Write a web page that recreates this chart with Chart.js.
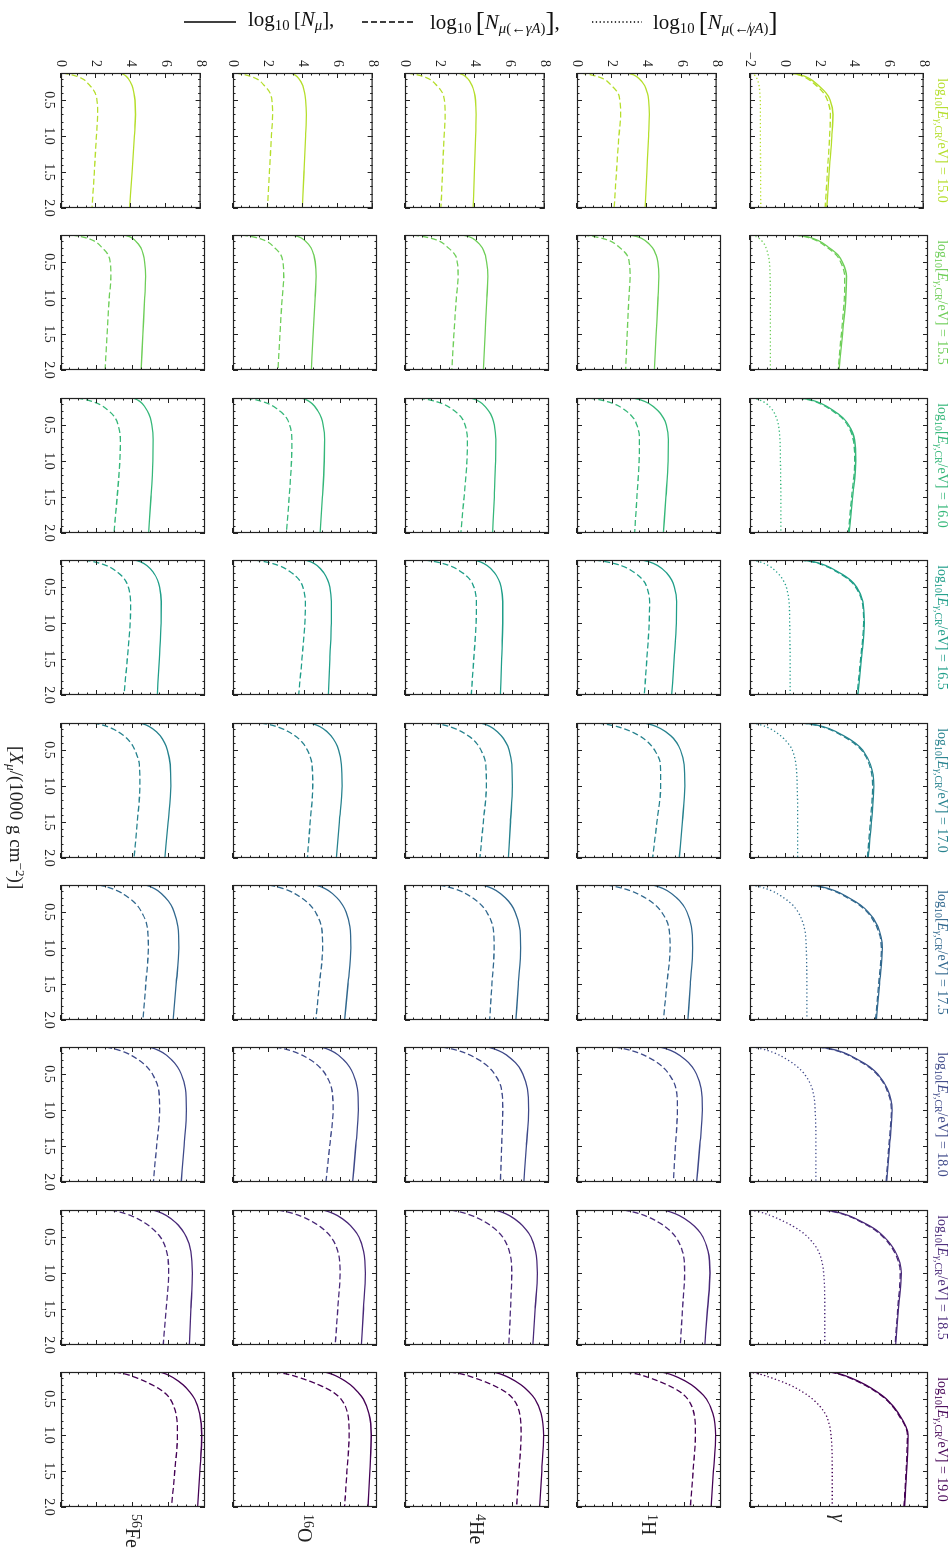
<!DOCTYPE html>
<html>
<head>
<meta charset="utf-8">
<script src="https://cdn.jsdelivr.net/npm/chart.js@4.4.1/dist/chart.umd.min.js"></script>
<style>
  html, body { margin: 0; padding: 0; background: #fff; }
  body { width: 952px; height: 1553px; position: relative; overflow: hidden;
         font-family: "Liberation Serif", "DejaVu Serif", serif; color: #111; }
  #fig { position: absolute; left: 0; top: 0; width: 1553px; height: 952px;
         transform-origin: 0 0; transform: translate(952px, 0) rotate(90deg); }
  #fig canvas { position: absolute; }
  .title { position: absolute; white-space: nowrap; font-size: 14px; line-height: 1;
           transform: translate(-50%, -50%); }
  .rowlab { position: absolute; white-space: nowrap; font-size: 20px; line-height: 1;
            transform: translateY(-50%); color: #222; }
  .xlab { position: absolute; white-space: nowrap; font-size: 19px; line-height: 1;
          transform: translateY(-50%); color: #222; }
  sub { font-size: 0.7em; vertical-align: -0.28em; line-height: 0; }
  sup { font-size: 0.7em; vertical-align: 0.45em; line-height: 0; }
  #legend .key { position: absolute; top: 18px; }
  #legend .lt { position: absolute; top: 9px; font-size: 21px; line-height: 1; white-space: nowrap; color: #111; }
  #legend .big { font-size: 1.3em; vertical-align: -0.08em; }
</style>
</head>
<body>
<div id="fig"></div>
<div id="legend">
  <svg class="key" style="left:184px" width="52" height="8"><line x1="0" y1="4" x2="52" y2="4" stroke="#000" stroke-width="1.5"/></svg>
  <div class="lt" style="left:248px">log<sub>10</sub>&#8201;[<i>N</i><sub><i>μ</i></sub>],</div>
  <svg class="key" style="left:362px" width="52" height="8"><line x1="0" y1="4" x2="52" y2="4" stroke="#000" stroke-width="1.5" stroke-dasharray="6,3"/></svg>
  <div class="lt" style="left:430px">log<sub>10</sub>&#8201;<span class="big">[</span><i>N</i><sub><i>μ</i>(←<i>γA</i>)</sub><span class="big">]</span>,</div>
  <svg class="key" style="left:592px" width="50" height="8"><line x1="0" y1="4" x2="50" y2="4" stroke="#000" stroke-width="1.5" stroke-dasharray="1.3,2.5"/></svg>
  <div class="lt" style="left:653px">log<sub>10</sub>&#8201;<span class="big">[</span><i>N</i><sub><i>μ</i>(↚<i>γA</i>)</sub><span class="big">]</span></div>
</div>
<script>
// Slant depth grid, in units of 1000 g/cm^2
const X_MU = [0.123, 0.15, 0.2, 0.3, 0.4, 0.5, 0.7, 1.0, 1.5, 2.0];
const X_MIN = 0.123;
const X_MAX = 2.0;
const X_TICKS = [0.5, 1.0, 1.5, 2.0];
const Y_TICKS = [0, 2, 4, 6, 8];
const Y_TICKS_GAMMA = [-2, 0, 2, 4, 6, 8];
const X_MINOR = 0.1;
const Y_MINOR = 0.5;

// log10 of primary energy, one column each
const ENERGIES = ['15.0', '15.5', '16.0', '16.5', '17.0', '17.5', '18.0', '18.5', '19.0'];
const LINE_COLORS = ['#b5de2b', '#6ece58', '#35b779', '#1f9e89', '#26828e',
                     '#31688e', '#3e4989', '#482878', '#440154'];

// Primaries, one row each
const PRIMARY_LABELS = ['<i>γ</i>', '<sup>1</sup>H', '<sup>4</sup>He', '<sup>16</sup>O', '<sup>56</sup>Fe'];

// log10 N_mu (all muons), per energy
const GAMMA_TOTAL = [
  [0.30, 0.92, 1.42, 1.96, 2.38, 2.61, 2.78, 2.72, 2.56, 2.42],
  [0.60, 1.26, 1.83, 2.45, 2.94, 3.19, 3.42, 3.38, 3.20, 3.00],
  [0.80, 1.43, 2.00, 2.70, 3.23, 3.55, 3.87, 3.94, 3.77, 3.57],
  [0.90, 1.61, 2.25, 3.03, 3.63, 3.99, 4.34, 4.43, 4.26, 4.06],
  [1.00, 1.71, 2.43, 3.26, 3.90, 4.33, 4.77, 4.96, 4.82, 4.64],
  [1.40, 2.05, 2.74, 3.55, 4.20, 4.65, 5.18, 5.44, 5.28, 5.10],
  [1.90, 2.56, 3.25, 4.07, 4.73, 5.18, 5.71, 5.99, 5.84, 5.68],
  [2.20, 2.85, 3.53, 4.39, 5.08, 5.55, 6.16, 6.50, 6.34, 6.18],
  [2.60, 3.05, 3.62, 4.48, 5.14, 5.67, 6.35, 6.88, 6.80, 6.68]
];
// log10 N_mu from photonuclear (gamma A) interactions
const GAMMA_FROM_GA = [
  [0.20, 0.81, 1.29, 1.83, 2.24, 2.46, 2.63, 2.59, 2.46, 2.33],
  [0.50, 1.15, 1.73, 2.35, 2.84, 3.09, 3.32, 3.30, 3.13, 2.95],
  [0.70, 1.34, 1.92, 2.62, 3.16, 3.48, 3.80, 3.88, 3.71, 3.52],
  [0.80, 1.52, 2.17, 2.96, 3.57, 3.93, 4.29, 4.38, 4.21, 4.02],
  [0.90, 1.62, 2.34, 3.18, 3.82, 4.26, 4.70, 4.89, 4.76, 4.60],
  [1.30, 1.96, 2.65, 3.47, 4.13, 4.58, 5.11, 5.38, 5.23, 5.05],
  [1.80, 2.46, 3.17, 4.00, 4.66, 5.12, 5.66, 5.94, 5.80, 5.65],
  [2.10, 2.75, 3.45, 4.32, 5.01, 5.49, 6.10, 6.44, 6.30, 6.15],
  [2.50, 2.96, 3.55, 4.41, 5.08, 5.62, 6.30, 6.84, 6.77, 6.65]
];
// log10 N_mu not from gamma A interactions (photon primaries only)
const GAMMA_NOT_GA = [
  [-1.95, -1.75, -1.60, -1.48, -1.43, -1.41, -1.40, -1.40, -1.39, -1.38],
  [-1.90, -1.62, -1.35, -1.10, -0.98, -0.91, -0.87, -0.85, -0.85, -0.85],
  [-1.85, -1.47, -1.09, -0.71, -0.51, -0.40, -0.32, -0.29, -0.27, -0.27],
  [-1.85, -1.43, -0.97, -0.46, -0.15, 0.04, 0.19, 0.23, 0.25, 0.25],
  [-1.85, -1.39, -0.89, -0.28, 0.12, 0.38, 0.58, 0.65, 0.68, 0.68],
  [-1.90, -1.41, -0.82, -0.11, 0.39, 0.70, 1.04, 1.16, 1.19, 1.19],
  [-1.85, -1.32, -0.68, 0.10, 0.67, 1.06, 1.49, 1.66, 1.70, 1.70],
  [-1.97, -1.45, -0.85, 0.05, 0.75, 1.25, 1.85, 2.14, 2.20, 2.20],
  [-2.05, -1.50, -0.85, 0.20, 0.95, 1.52, 2.22, 2.55, 2.62, 2.62]
];

const H_TOTAL = [
  [2.90, 3.25, 3.55, 3.88, 4.03, 4.10, 4.15, 4.10, 4.00, 3.90],
  [2.95, 3.40, 3.78, 4.20, 4.39, 4.49, 4.55, 4.50, 4.40, 4.30],
  [3.10, 3.54, 4.00, 4.50, 4.80, 4.96, 5.08, 5.06, 4.94, 4.80],
  [3.60, 4.03, 4.48, 4.97, 5.26, 5.41, 5.53, 5.52, 5.40, 5.26],
  [3.74, 4.17, 4.64, 5.21, 5.55, 5.75, 5.95, 5.99, 5.85, 5.68],
  [4.20, 4.56, 5.00, 5.53, 5.89, 6.11, 6.35, 6.42, 6.30, 6.16],
  [4.60, 4.98, 5.45, 6.02, 6.40, 6.64, 6.90, 6.97, 6.82, 6.65],
  [4.80, 5.19, 5.68, 6.30, 6.72, 7.00, 7.29, 7.39, 7.25, 7.10],
  [4.70, 5.12, 5.63, 6.35, 6.83, 7.19, 7.55, 7.70, 7.58, 7.45]
];
const H_FROM_GA = [
  [0.20, 0.82, 1.47, 1.99, 2.34, 2.45, 2.50, 2.40, 2.26, 2.13],
  [0.35, 1.05, 1.78, 2.38, 2.77, 2.90, 2.95, 2.88, 2.79, 2.70],
  [0.68, 1.30, 2.01, 2.71, 3.13, 3.33, 3.47, 3.45, 3.33, 3.20],
  [1.00, 1.67, 2.44, 3.20, 3.66, 3.88, 4.03, 4.01, 3.88, 3.74],
  [1.16, 1.83, 2.58, 3.46, 3.99, 4.31, 4.63, 4.65, 4.44, 4.20],
  [1.65, 2.22, 2.93, 3.78, 4.35, 4.70, 5.09, 5.17, 4.99, 4.80],
  [2.10, 2.66, 3.36, 4.20, 4.76, 5.11, 5.50, 5.58, 5.47, 5.35],
  [2.60, 3.11, 3.76, 4.57, 5.12, 5.49, 5.86, 5.98, 5.86, 5.74],
  [2.70, 3.32, 3.98, 4.99, 5.73, 6.15, 6.50, 6.58, 6.45, 6.30]
];

const HE_TOTAL = [
  [3.05, 3.34, 3.59, 3.85, 3.98, 4.04, 4.08, 4.05, 3.98, 3.90],
  [3.20, 3.59, 3.93, 4.29, 4.46, 4.54, 4.60, 4.55, 4.45, 4.35],
  [3.65, 3.96, 4.28, 4.64, 4.85, 4.96, 5.05, 5.04, 4.96, 4.87],
  [3.84, 4.19, 4.56, 4.97, 5.21, 5.34, 5.43, 5.43, 5.37, 5.30],
  [4.20, 4.54, 4.91, 5.35, 5.62, 5.78, 5.94, 5.97, 5.86, 5.74],
  [4.30, 4.64, 5.06, 5.57, 5.91, 6.12, 6.36, 6.42, 6.30, 6.16],
  [4.60, 4.96, 5.42, 5.96, 6.33, 6.55, 6.80, 6.87, 6.74, 6.60],
  [5.00, 5.35, 5.80, 6.36, 6.74, 7.00, 7.26, 7.35, 7.23, 7.10],
  [4.90, 5.29, 5.77, 6.44, 6.89, 7.22, 7.56, 7.70, 7.60, 7.48]
];
const HE_FROM_GA = [
  [0.15, 0.73, 1.33, 1.83, 2.15, 2.26, 2.30, 2.24, 2.15, 2.06],
  [0.45, 1.13, 1.83, 2.40, 2.78, 2.90, 2.95, 2.85, 2.72, 2.60],
  [0.77, 1.37, 2.05, 2.74, 3.15, 3.34, 3.47, 3.44, 3.28, 3.10],
  [1.10, 1.74, 2.46, 3.19, 3.62, 3.83, 3.97, 3.95, 3.82, 3.68],
  [1.58, 2.14, 2.77, 3.51, 3.96, 4.22, 4.49, 4.52, 4.35, 4.16],
  [1.90, 2.39, 3.01, 3.74, 4.23, 4.54, 4.88, 4.95, 4.83, 4.70],
  [2.06, 2.60, 3.28, 4.09, 4.64, 4.98, 5.35, 5.43, 5.37, 5.30],
  [2.55, 3.06, 3.70, 4.52, 5.06, 5.43, 5.80, 5.93, 5.86, 5.77],
  [2.50, 3.13, 3.80, 4.83, 5.58, 6.02, 6.37, 6.45, 6.33, 6.20]
];

const O_TOTAL = [
  [3.30, 3.55, 3.77, 4.00, 4.11, 4.16, 4.20, 4.16, 4.07, 3.97],
  [3.30, 3.67, 3.99, 4.33, 4.49, 4.57, 4.62, 4.56, 4.45, 4.35],
  [3.80, 4.09, 4.39, 4.71, 4.91, 5.01, 5.09, 5.07, 4.97, 4.84],
  [4.00, 4.33, 4.67, 5.04, 5.26, 5.38, 5.47, 5.46, 5.38, 5.30],
  [4.30, 4.63, 5.00, 5.44, 5.71, 5.87, 6.02, 6.06, 5.91, 5.74],
  [4.60, 4.91, 5.30, 5.77, 6.08, 6.28, 6.49, 6.55, 6.39, 6.20],
  [4.90, 5.23, 5.65, 6.14, 6.47, 6.68, 6.91, 6.97, 6.82, 6.65],
  [5.00, 5.35, 5.80, 6.36, 6.74, 7.00, 7.26, 7.35, 7.25, 7.13],
  [5.10, 5.46, 5.90, 6.52, 6.93, 7.24, 7.55, 7.68, 7.60, 7.50]
];
const O_FROM_GA = [
  [0.15, 0.72, 1.32, 1.80, 2.12, 2.23, 2.27, 2.20, 2.09, 1.97],
  [0.50, 1.13, 1.78, 2.31, 2.66, 2.77, 2.82, 2.73, 2.61, 2.50],
  [0.74, 1.30, 1.94, 2.58, 2.97, 3.15, 3.27, 3.25, 3.12, 2.97],
  [1.20, 1.83, 2.54, 3.25, 3.68, 3.88, 4.02, 3.99, 3.83, 3.65],
  [1.55, 2.10, 2.71, 3.44, 3.87, 4.13, 4.39, 4.43, 4.29, 4.13],
  [2.00, 2.48, 3.08, 3.80, 4.28, 4.58, 4.91, 4.98, 4.80, 4.60],
  [2.35, 2.87, 3.51, 4.29, 4.80, 5.13, 5.48, 5.56, 5.37, 5.16],
  [2.50, 3.02, 3.68, 4.51, 5.07, 5.45, 5.83, 5.95, 5.82, 5.68],
  [2.30, 2.96, 3.67, 4.75, 5.54, 6.00, 6.37, 6.45, 6.33, 6.20]
];

const FE_TOTAL = [
  [3.40, 3.64, 3.85, 4.08, 4.18, 4.24, 4.27, 4.21, 4.08, 3.93],
  [3.50, 3.84, 4.12, 4.44, 4.58, 4.65, 4.70, 4.65, 4.55, 4.45],
  [4.00, 4.25, 4.51, 4.79, 4.96, 5.05, 5.12, 5.10, 5.00, 4.87],
  [4.10, 4.43, 4.77, 5.14, 5.36, 5.48, 5.57, 5.56, 5.46, 5.35],
  [4.40, 4.72, 5.08, 5.51, 5.76, 5.91, 6.07, 6.10, 5.95, 5.77],
  [4.70, 5.00, 5.37, 5.81, 6.11, 6.29, 6.49, 6.55, 6.40, 6.23],
  [4.90, 5.23, 5.65, 6.14, 6.47, 6.68, 6.91, 6.97, 6.84, 6.68],
  [5.10, 5.43, 5.85, 6.38, 6.73, 6.97, 7.21, 7.30, 7.22, 7.13],
  [5.50, 5.82, 6.22, 6.78, 7.15, 7.43, 7.70, 7.82, 7.72, 7.59]
];
const FE_FROM_GA = [
  [0.10, 0.64, 1.20, 1.66, 1.96, 2.06, 2.10, 2.03, 1.91, 1.78],
  [0.60, 1.19, 1.79, 2.29, 2.62, 2.73, 2.77, 2.68, 2.56, 2.45],
  [0.90, 1.43, 2.04, 2.64, 3.01, 3.17, 3.30, 3.27, 3.12, 2.94],
  [1.30, 1.87, 2.52, 3.17, 3.56, 3.74, 3.87, 3.84, 3.68, 3.50],
  [1.80, 2.29, 2.84, 3.49, 3.88, 4.11, 4.35, 4.38, 4.24, 4.06],
  [2.10, 2.54, 3.10, 3.76, 4.21, 4.48, 4.79, 4.85, 4.71, 4.55],
  [2.50, 2.98, 3.58, 4.30, 4.78, 5.08, 5.41, 5.48, 5.31, 5.13],
  [2.77, 3.25, 3.87, 4.64, 5.16, 5.52, 5.87, 5.98, 5.84, 5.68],
  [3.00, 3.55, 4.15, 5.05, 5.70, 6.07, 6.38, 6.47, 6.32, 6.14]
];

// Panel rows, top to bottom: gamma, proton, helium, oxygen, iron
const ROW_SERIES = [
  [GAMMA_TOTAL, GAMMA_FROM_GA, GAMMA_NOT_GA],
  [H_TOTAL, H_FROM_GA],
  [HE_TOTAL, HE_FROM_GA],
  [O_TOTAL, O_FROM_GA],
  [FE_TOTAL, FE_FROM_GA]
];
const DASHES = [[], [6, 3], [1.3, 2.5]];

// Grid geometry (figure frame before it is turned on its side)
const PLOT_W = 135;
const COL_PITCH = 162.4;
const FIRST_LEFT = 73;
const ROW_TOPS = [24, 231, 403, 575, 747];
const ROW_HEIGHTS = [178, 144, 144, 144, 144];
const PAD_L = 40, PAD_R = 14, PAD_T = 10, PAD_B = 30;

const FONT = "'Liberation Serif', 'DejaVu Serif', serif";
const INK = '#222';

// Inward tick marks on all four sides plus the panel frame
const frameTicks = {
  id: 'frameTicks',
  afterDraw(chart) {
    const { ctx, chartArea: a, scales } = chart;
    const xs = scales.x, ys = scales.y;
    ctx.save();
    ctx.strokeStyle = INK;
    ctx.lineWidth = 1;
    ctx.beginPath();
    const xMark = (v, len) => {
      const p = Math.round(xs.getPixelForValue(v)) + 0.5;
      ctx.moveTo(p, a.bottom); ctx.lineTo(p, a.bottom - len);
      ctx.moveTo(p, a.top); ctx.lineTo(p, a.top + len);
    };
    const yMark = (v, len) => {
      const p = Math.round(ys.getPixelForValue(v)) + 0.5;
      ctx.moveTo(a.left, p); ctx.lineTo(a.left + len, p);
      ctx.moveTo(a.right, p); ctx.lineTo(a.right - len, p);
    };
    for (let i = Math.ceil(xs.min / X_MINOR - 1e-6); i * X_MINOR <= xs.max + 1e-6; i++) xMark(i * X_MINOR, 2.5);
    for (let i = Math.ceil(ys.min / Y_MINOR - 1e-6); i * Y_MINOR <= ys.max + 1e-6; i++) yMark(i * Y_MINOR, 2.5);
    xs.ticks.forEach(t => xMark(t.value, 5));
    ys.ticks.forEach(t => yMark(t.value, 5));
    ctx.stroke();
    ctx.lineWidth = 1.2;
    ctx.strokeRect(a.left + 0.5, a.top + 0.5, a.right - a.left - 1, a.bottom - a.top - 1);
    ctx.restore();
  }
};

const fig = document.getElementById('fig');

function addPanel(row, col) {
  const isGamma = row === 0;
  const h = ROW_HEIGHTS[row];
  const left = Math.round(FIRST_LEFT + COL_PITCH * col);
  const top = ROW_TOPS[row];
  const canvas = document.createElement('canvas');
  canvas.width = PLOT_W + PAD_L + PAD_R;
  canvas.height = h + PAD_T + PAD_B;
  canvas.style.left = (left - PAD_L) + 'px';
  canvas.style.top = (top - PAD_T) + 'px';
  canvas.style.width = canvas.width + 'px';
  canvas.style.height = canvas.height + 'px';
  fig.appendChild(canvas);

  const color = LINE_COLORS[col];
  const datasets = ROW_SERIES[row].map((series, k) => ({
    data: X_MU.map((x, i) => ({ x, y: series[col][i] })),
    showLine: true,
    borderColor: color,
    borderWidth: 1.3,
    borderDash: DASHES[k],
    pointRadius: 0,
    fill: false,
    cubicInterpolationMode: 'monotone'
  }));

  const yTicks = isGamma ? Y_TICKS_GAMMA : Y_TICKS;
  new Chart(canvas, {
    type: 'scatter',
    data: { datasets },
    options: {
      responsive: false,
      animation: false,
      devicePixelRatio: 1,
      events: [],
      layout: { padding: { top: PAD_T, right: PAD_R, left: 0, bottom: 0 } },
      plugins: { legend: { display: false }, tooltip: { enabled: false } },
      scales: {
        x: {
          type: 'linear', min: X_MIN, max: X_MAX,
          grid: { display: false, drawTicks: false },
          border: { display: false },
          afterBuildTicks: s => { s.ticks = X_TICKS.map(v => ({ value: v })); },
          afterFit: s => { s.height = PAD_B; },
          ticks: {
            display: row === ROW_TOPS.length - 1,
            padding: 4, color: INK, maxRotation: 0, autoSkip: false,
            font: { family: FONT, size: 14 },
            callback: v => Number(v).toFixed(1)
          }
        },
        y: {
          type: 'linear', min: yTicks[0], max: yTicks[yTicks.length - 1],
          grid: { display: false, drawTicks: false },
          border: { display: false },
          afterBuildTicks: s => { s.ticks = yTicks.map(v => ({ value: v })); },
          afterFit: s => { s.width = PAD_L; },
          ticks: {
            display: col === 0,
            padding: 6, color: INK, autoSkip: false,
            font: { family: FONT, size: 14 },
            callback: v => (v < 0 ? '\u2212' + Math.abs(v) : String(v))
          }
        }
      }
    },
    plugins: [frameTicks]
  });
}

for (let row = 0; row < ROW_TOPS.length; row++) {
  for (let col = 0; col < ENERGIES.length; col++) addPanel(row, col);
}

// Column headings, coloured like their curves
ENERGIES.forEach((e, col) => {
  const d = document.createElement('div');
  d.className = 'title';
  d.style.left = (Math.round(FIRST_LEFT + COL_PITCH * col) + PLOT_W / 2) + 'px';
  d.style.top = '10px';
  d.style.color = LINE_COLORS[col];
  d.innerHTML = 'log<sub>10</sub>[<i>E</i><sub><i>γ</i>,CR</sub>/eV] = ' + e;
  fig.appendChild(d);
});

// Primary labels at the end of each row
PRIMARY_LABELS.forEach((lab, row) => {
  const d = document.createElement('div');
  d.className = 'rowlab';
  d.style.left = '1514px';
  d.style.top = (ROW_TOPS[row] + ROW_HEIGHTS[row] / 2) + 'px';
  d.innerHTML = lab;
  fig.appendChild(d);
});

// Shared depth axis label
const xl = document.createElement('div');
xl.className = 'xlab';
xl.style.left = '746px';
xl.style.top = '935px';
xl.innerHTML = '[<i>X</i><sub><i>μ</i></sub>/(1000 g cm<sup>−2</sup>)]';
fig.appendChild(xl);
</script>
</body>
</html>
